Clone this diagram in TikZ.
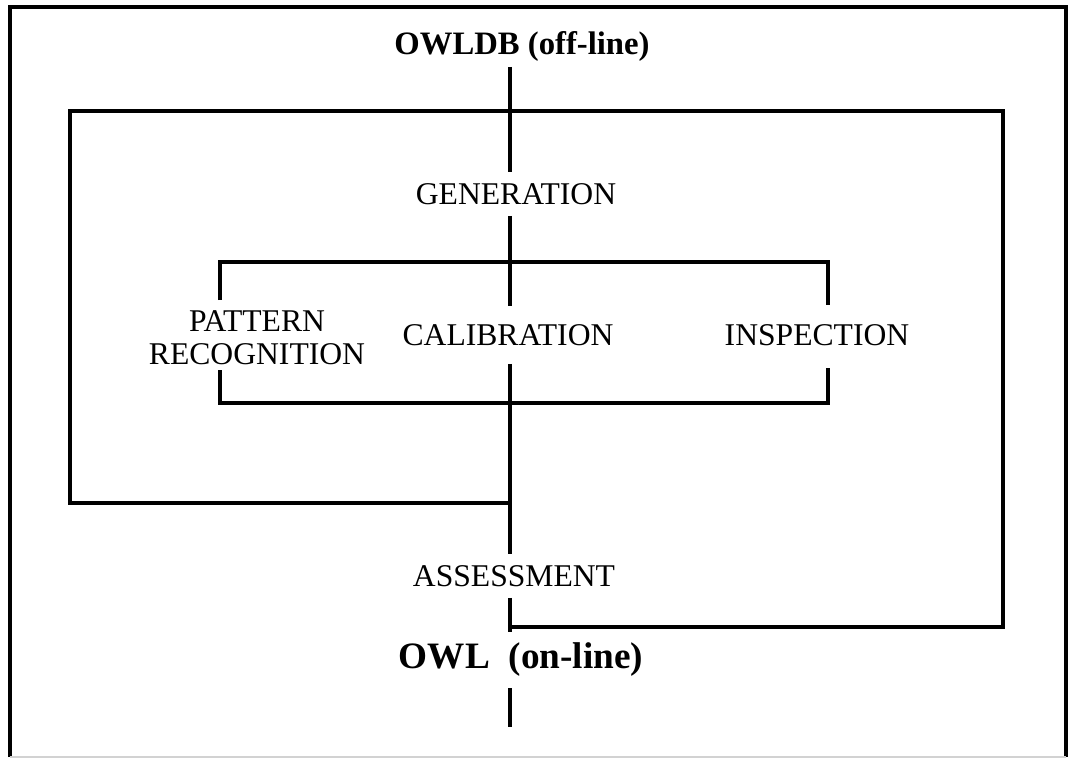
\documentclass[tikz,border=0pt]{standalone}
\usepackage{fontspec}
\setmainfont{Liberation Serif}
\begin{document}
\begin{tikzpicture}[
        lbl/.style={font=\fontsize{9}{9.5}\selectfont, inner sep=3pt},
        rowlbl/.style={lbl, inner xsep=3pt, inner ysep=5pt},
        titlelbl/.style={font=\fontsize{9.6}{11}\selectfont\bfseries, inner sep=3pt},
        wire/.style={line width=1.1pt},
        framel/.style={line width=0.9pt}
      ]
      \useasboundingbox (0,0) rectangle (10.70,-7.59);
      % outer frame, bottom edge only faint
      \draw[framel] (0.10,-7.57) -- (0.10,-0.07) -- (10.66,-0.07) -- (10.66,-7.57);
      \draw[gray!35, line width=0.5pt] (0.10,-7.57) -- (10.66,-7.57);
      \coordinate (spine) at (5.10,0);
      % labels
      \node[titlelbl, font=\fontsize{9.3}{11}\selectfont\bfseries, inner sep=1.5pt] (off) at (5.22,-0.46) {OWLDB (off-line)};
      \node[lbl] (gen) at (5.16,-1.94) {GENERATION};
      \node[rowlbl, align=center] (pat) at (2.57,-3.38) {PATTERN\\RECOGNITION};
      \node[rowlbl] (cal) at (5.08,-3.35) {CALIBRATION};
      \node[rowlbl] (ins) at (8.17,-3.35) {INSPECTION};
      \node[lbl] (ass) at (5.14,-5.76) {ASSESSMENT};
      \node[titlelbl, font=\fontsize{10.6}{12}\selectfont\bfseries] (on) at (5.21,-6.60) {OWL\ \ (on-line)};
      % spine
      \coordinate (outlet) at (5.10,-7.27);
      \draw[wire] (off.south -| spine) -- (gen.north -| spine);
      \draw[wire] (gen.south -| spine) -- (cal.north -| spine);
      \draw[wire] (cal.south -| spine) -- (ass.north -| spine);
      \draw[wire] (ass.south -| spine) -- (on.north -| spine);
      \draw[wire] (on.south -| spine) -- (outlet);
      % outer loop
      \coordinate (oA) at (5.10,-5.03);
      \coordinate (o1) at (0.70,-5.03);
      \coordinate (o2) at (0.70,-1.11);
      \coordinate (o3) at (10.03,-1.11);
      \coordinate (o4) at (10.03,-6.27);
      \coordinate (oB) at (5.10,-6.27);
      \draw[wire] (oA) -- (o1) -- (o2) -- (o3) -- (o4) -- (oB);
      % inner loop
      \coordinate (bl) at (2.20,-2.62);
      \coordinate (br) at (8.28,-2.62);
      \coordinate (pt) at (2.20,-3.00);
      \coordinate (it) at (8.28,-3.05);
      \coordinate (pb) at (2.20,-3.70);
      \coordinate (ib) at (8.28,-3.68);
      \coordinate (bbl) at (2.20,-4.03);
      \coordinate (bbr) at (8.28,-4.03);
      \draw[wire] (pt) -- (bl) -- (br) -- (it);
      \draw[wire] (pb) -- (bbl) -- (bbr) -- (ib);
    \end{tikzpicture}
\end{document}
